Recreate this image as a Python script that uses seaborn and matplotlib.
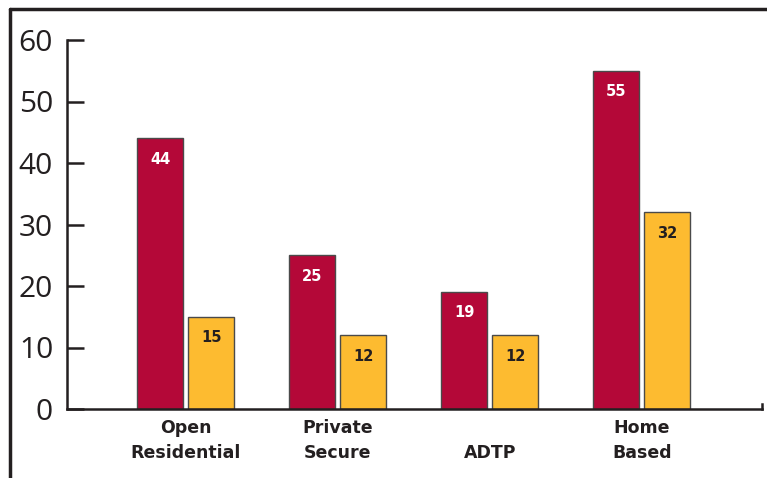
import matplotlib
matplotlib.use("Agg")
import matplotlib.pyplot as plt
import seaborn as sns
import pandas as pd
from matplotlib.lines import Line2D

categories = ["Open\nResidential", "Private\nSecure", "\nADTP", "Home\nBased"]
series_names = ["Series 1", "Series 2"]
values_red = [44, 25, 19, 55]
values_yellow = [15, 12, 12, 32]
yticks = [0, 10, 20, 30, 40, 50, 60]

colors = ["#B40838", "#FDBB30"]
label_colors = ["white", "#231F20"]

df = pd.DataFrame({
    "category": categories * 2,
    "series": [series_names[0]] * 4 + [series_names[1]] * 4,
    "value": values_red + values_yellow,
})

sns.set_style("white")
plt.rcParams["font.family"] = ["Open Sans", "DejaVu Sans"]

fig = plt.figure(figsize=(7.67, 4.78), dpi=100)
ax = fig.add_axes([67 / 767, 1 - 409 / 478, (762 - 67) / 767, (409 - 40) / 478])

sns.barplot(data=df, x="category", y="value", hue="series", order=categories,
            hue_order=series_names, palette=colors, width=0.67, gap=0.1,
            edgecolor="#4a4a4a", linewidth=1.0, saturation=1, legend=False, ax=ax)

for cont, lc in zip(ax.containers, label_colors):
    for p in cont.patches:
        ax.annotate(f"{int(round(p.get_height()))}",
                    (p.get_x() + p.get_width() / 2, p.get_height()),
                    xytext=(0, -15), textcoords="offset points",
                    ha="center", va="center", color=lc, fontsize=10.5,
                    fontweight="bold", family=["DejaVu Sans"])

ax.set_ylim(0, 60)
ax.set_xlim(-0.78, 3.79)
ax.set_yticks(yticks)
ax.set_yticklabels([str(t) for t in yticks], fontsize=21.5, color="#231F20")
ax.tick_params(axis="y", direction="in", length=12, width=1.8, color="#231F20", pad=10, left=True)
ax.tick_params(axis="x", length=0, pad=7)
for lbl in ax.get_xticklabels():
    lbl.set_fontsize(12.5)
    lbl.set_fontweight("bold")
    lbl.set_family(["DejaVu Sans"])
    lbl.set_color("#231F20")
    lbl.set_linespacing(1.5)
ax.set_xlabel("")
ax.set_ylabel("")

for s in ["left", "bottom"]:
    ax.spines[s].set_visible(True)
    ax.spines[s].set_color("#231F20")
    ax.spines[s].set_linewidth(1.8)
ax.spines["top"].set_visible(False)
ax.spines["right"].set_visible(True)
ax.spines["right"].set_color("#231F20")
ax.spines["right"].set_linewidth(1.8)
ax.spines["right"].set_bounds(0, 0.8)

# figure frame (top and left)
fig.add_artist(Line2D([10 / 767, 10 / 767], [0, 1 - 9 / 478], transform=fig.transFigure,
                      color="#231F20", linewidth=2.5))
fig.add_artist(Line2D([10 / 767, 1], [1 - 9 / 478, 1 - 9 / 478], transform=fig.transFigure,
                      color="#231F20", linewidth=2.5))

fig.savefig("out.png", dpi=100)
